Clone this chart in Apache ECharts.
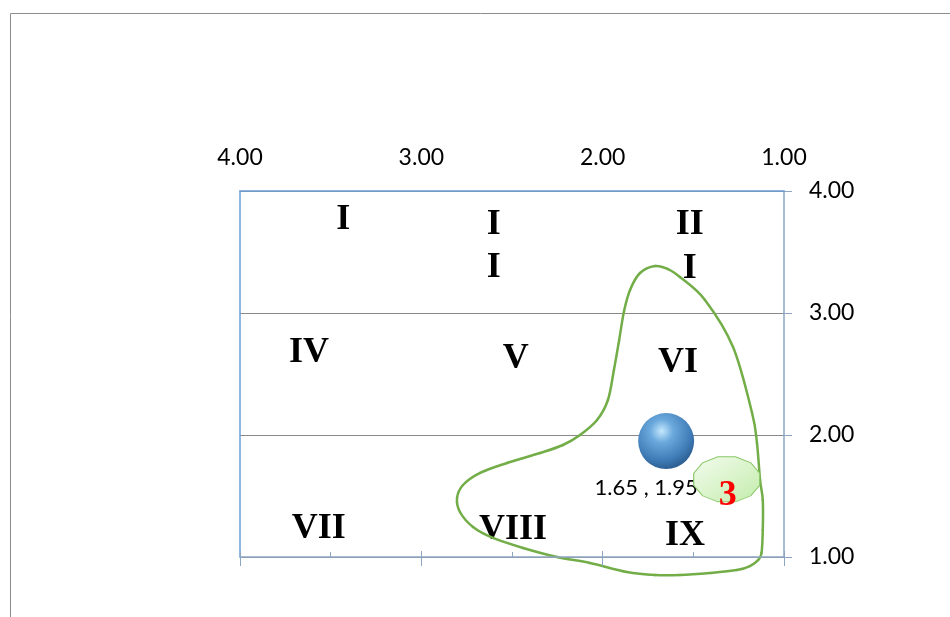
<!DOCTYPE html>
<html>
<head>
<meta charset="utf-8">
<title>Matrix</title>
<script src="https://cdn.jsdelivr.net/npm/echarts@6/dist/echarts.min.js"></script>
<style>
  html, body { margin: 0; padding: 0; background: #fff; }
  #chart { width: 950px; height: 617px; }
</style>
</head>
<body>
<div id="chart"></div>
<script>
// axis ticks (both axes run 1 .. 4)
var ticks = [1, 2, 3, 4];

// the plotted point
var pointX = [1.65];
var pointY = [1.95];

// cell numerals
var cellNames = ['I', 'I\nI', 'II\nI', 'IV', 'V', 'VI', 'VII', 'VIII', 'IX'];
var cellX = [3.43, 2.60, 1.52, 3.62, 2.48, 1.585, 3.566, 2.494, 1.546];
var cellY = [3.79, 3.574, 3.57, 2.697, 2.648, 2.615, 1.254, 1.25, 1.20];

// green badge
var badgeText = ['3'];
var badgeX = [1.316];
var badgeY = [1.637];

// hand drawn closed outline round the point
var outlineX = [1.711, 1.640, 1.574, 1.436, 1.281, 1.176, 1.149, 1.132, 1.117,
  1.117, 1.124, 1.143, 1.188, 1.259, 1.408, 1.574, 1.711, 1.866, 2.070, 2.252, 2.439, 2.605, 2.715,
  2.787, 2.803, 2.770, 2.676, 2.528, 2.346, 2.219, 2.125, 2.031, 1.971, 1.938, 1.909, 1.882, 1.849,
  1.794];
var outlineY = [3.385, 3.360, 3.295, 3.107, 2.721, 2.180, 1.934, 1.631, 1.467,
  1.221, 1.033, 0.975, 0.926, 0.893, 0.869, 0.852, 0.852, 0.877, 0.951, 1.000, 1.074, 1.156, 1.246,
  1.369, 1.484, 1.590, 1.689, 1.770, 1.852, 1.918, 2.000, 2.123, 2.287, 2.533, 2.779, 3.016, 3.189,
  3.328];

var chart = echarts.init(document.getElementById('chart'));

var axisMin = ticks[0];
var axisMax = ticks[ticks.length - 1];
var axisStep = ticks[1] - ticks[0];
var fmt = function (v) { return v.toFixed(2); };
var labelFont = { fontFamily: 'Lato', fontSize: 23, color: '#000' };
var axisGrey = '#8ea6c4';
var plotBlue = '#6a9fd6';

// badge outline: 12-sided polygon
var badgePath = 'path://';
for (var k = 0; k < 12; k++) {
  var a = Math.PI * 2 * k / 12 + Math.PI / 12;
  badgePath += (k ? 'L' : 'M') + (50 + 50 * Math.cos(a)).toFixed(2) + ',' + (50 + 50 * Math.sin(a)).toFixed(2);
}
badgePath += 'Z';

// closed catmull-rom curve through the outline, mapped with the axes
function renderOutline(params, api) {
  var pts = outlineX.map(function (x, i) { return api.coord([x, outlineY[i]]); });
  var n = pts.length;
  var segs = [];
  for (var i = 0; i < n; i++) {
    var p0 = pts[(i - 1 + n) % n], p1 = pts[i], p2 = pts[(i + 1) % n], p3 = pts[(i + 2) % n];
    segs.push({
      type: 'bezierCurve',
      shape: {
        x1: p1[0], y1: p1[1], x2: p2[0], y2: p2[1],
        cpx1: p1[0] + (p2[0] - p0[0]) / 6, cpy1: p1[1] + (p2[1] - p0[1]) / 6,
        cpx2: p2[0] - (p3[0] - p1[0]) / 6, cpy2: p2[1] - (p3[1] - p1[1]) / 6
      },
      style: { stroke: '#72ad47', lineWidth: 2.5, fill: null, lineCap: 'round' }
    });
  }
  return { type: 'group', children: segs };
}

var option = {
  animation: false,
  graphic: [{
    type: 'rect',
    silent: true,
    shape: { x: 10.5, y: 13.5, width: 1000, height: 1000 },
    style: { fill: 'none', stroke: '#8c8c8c', lineWidth: 1 }
  }],
  grid: { left: 240, top: 191, right: 166, bottom: 60 },
  xAxis: [
    {
      type: 'value', position: 'top', min: axisMin, max: axisMax, interval: axisStep, inverse: true, z: 5,
      axisLine: { show: true, lineStyle: { color: plotBlue, width: 1.5 } },
      axisTick: { show: false },
      splitLine: { show: false },
      axisLabel: Object.assign({ formatter: fmt, margin: 22 }, labelFont)
    },
    {
      type: 'value', position: 'bottom', min: axisMin, max: axisMax, interval: axisStep, inverse: true, z: 5,
      axisLine: { show: true, lineStyle: { color: axisGrey, width: 1.5 } },
      axisTick: { show: true, inside: true, length: 6, lineStyle: { color: axisGrey } },
      minorTick: { show: true, splitNumber: 2, length: 5, lineStyle: { color: axisGrey } },
      axisLabel: { show: false },
      splitLine: { show: false }
    },
    {
      type: 'value', position: 'bottom', min: axisMin, max: axisMax, interval: axisStep, inverse: true, z: 5,
      axisLine: { show: false },
      axisTick: { show: true, length: 9, lineStyle: { color: axisGrey } },
      axisLabel: { show: false },
      splitLine: { show: false }
    }
  ],
  yAxis: [
    {
      type: 'value', position: 'right', min: axisMin, max: axisMax, interval: axisStep,
      axisLine: { show: true, lineStyle: { color: axisGrey, width: 1.5 } },
      axisTick: { show: true, length: 8, lineStyle: { color: axisGrey } },
      splitLine: { show: true, lineStyle: { color: '#898989', width: 1 } },
      axisLabel: Object.assign({ formatter: fmt, margin: 25 }, labelFont)
    },
    {
      type: 'value', position: 'left', min: axisMin, max: axisMax, interval: axisStep, z: 5,
      axisLine: { show: true, lineStyle: { color: plotBlue, width: 1.5 } },
      axisTick: { show: false },
      axisLabel: { show: false },
      splitLine: { show: false }
    }
  ],
  series: [
    {
      name: 'cells',
      type: 'scatter',
      symbolSize: 1,
      itemStyle: { color: 'transparent', opacity: 1 },
      z: 1,
      label: {
        show: true, position: 'inside', offset: [0, 3],
        formatter: function (p) { return p.name; },
        fontFamily: 'Liberation Serif', fontWeight: 'bold', fontSize: 36, lineHeight: 43.5, color: '#000'
      },
      data: cellNames.map(function (n, i) { return { name: n, value: [cellX[i], cellY[i]] }; })
    },
    {
      name: 'outline',
      type: 'custom',
      clip: false,
      z: 2,
      renderItem: renderOutline,
      data: [[outlineX[0], outlineY[0]]]
    },
    {
      name: 'point',
      type: 'scatter',
      symbol: 'circle',
      symbolSize: 56,
      z: 3,
      itemStyle: {
        opacity: 1,
        color: {
          type: 'radial', x: 0.42, y: 0.32, r: 0.7,
          colorStops: [
            { offset: 0, color: '#c4e8fd' },
            { offset: 0.3, color: '#6aa8dc' },
            { offset: 0.75, color: '#3f7bb6' },
            { offset: 1, color: '#2b5c8f' }
          ]
        }
      },
      label: {
        show: true, position: 'bottom', distance: 8, offset: [-20, 0],
        formatter: function (p) { return p.value[0].toFixed(2) + ' , ' + p.value[1].toFixed(2); },
        fontFamily: 'Lato', fontSize: 22, color: '#000'
      },
      data: pointX.map(function (x, i) { return [x, pointY[i]]; })
    },
    {
      name: 'badge',
      type: 'scatter',
      symbol: badgePath,
      symbolSize: [66, 45],
      z: 4,
      itemStyle: {
        opacity: 1,
        borderColor: '#8dc86a', borderWidth: 1,
        color: {
          type: 'linear', x: 0, y: 0, x2: 1, y2: 1,
          colorStops: [{ offset: 0, color: '#f3fcee' }, { offset: 1, color: '#c3ecab' }]
        }
      },
      label: {
        show: true, position: 'inside', offset: [1, 16],
        formatter: function (p) { return p.name; },
        fontFamily: 'Liberation Serif', fontWeight: 'bold', fontSize: 36, color: '#ff0000'
      },
      data: badgeText.map(function (t, i) { return { name: t, value: [badgeX[i], badgeY[i]] }; })
    }
  ]
};
chart.setOption(option);
</script>
</body>
</html>
